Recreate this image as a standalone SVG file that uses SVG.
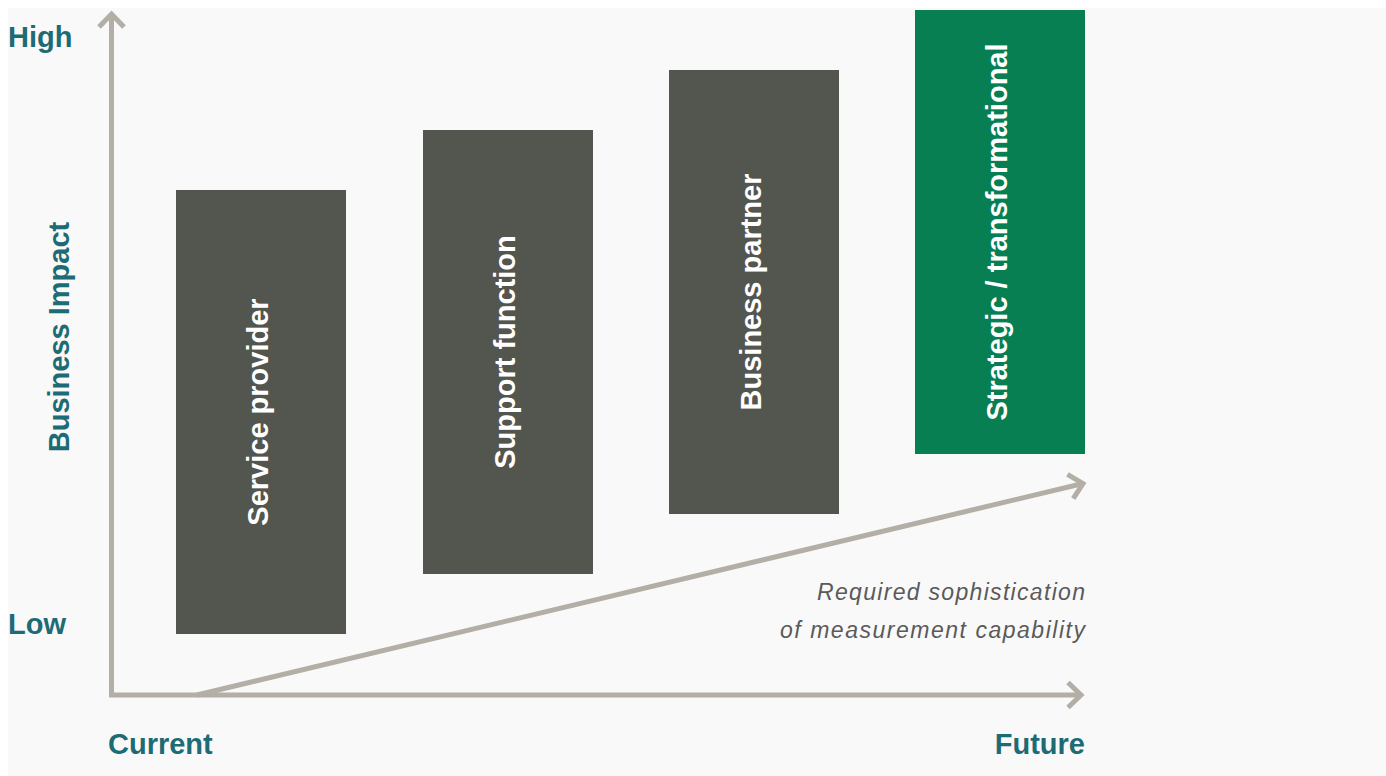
<svg xmlns="http://www.w3.org/2000/svg" width="1386" height="776" viewBox="0 0 1386 776">
<style>
.axis{fill:none;stroke:#b3aea6;stroke-width:5}
.box{fill:#53554f}
.green{fill:#087f52}
.lbl{font-family:"Liberation Sans",Arial,sans-serif;font-weight:bold;font-size:29px;fill:#ffffff}
.ax{font-family:"Liberation Sans",Arial,sans-serif;font-weight:bold;font-size:29px;fill:#1d6b74}
.note{font-family:"Liberation Sans",Arial,sans-serif;font-style:italic;font-size:23px;fill:#5a5a5a}
</style>
<defs>
<marker id="arr" viewBox="-18 -16 22 32" markerWidth="22" markerHeight="32" refX="0" refY="0" orient="auto" markerUnits="userSpaceOnUse" overflow="visible">
<path d="M-13,-12.5 L0,0 L-13,12.5" fill="none" stroke="#b3aea6" stroke-width="5"/>
</marker>
</defs>
<rect x="0" y="0" width="1386" height="776" fill="#ffffff"/>
<rect x="8" y="8" width="1378" height="768" fill="#f9f9f9"/>
<g id="connectors">
<path class="axis" d="M111.5,697 L111.5,14" marker-end="url(#arr)"/>
<path class="axis" d="M109,695 L1081,695" marker-end="url(#arr)"/>
<path class="axis" d="M197,695 L1083,483.5" marker-end="url(#arr)"/>
</g>
<g id="service-provider">
<rect class="box" x="176" y="190" width="170" height="444"/>
<text class="lbl" transform="translate(267.5,412) rotate(-90)" text-anchor="middle">Service provider</text>
</g>
<g id="support-function">
<rect class="box" x="423" y="130" width="170" height="444"/>
<text class="lbl" transform="translate(514.5,352) rotate(-90)" text-anchor="middle">Support function</text>
</g>
<g id="business-partner">
<rect class="box" x="669" y="70" width="170" height="444"/>
<text class="lbl" transform="translate(760.5,292) rotate(-90)" text-anchor="middle">Business partner</text>
</g>
<g id="strategic">
<rect class="green" x="915" y="10" width="170" height="444"/>
<text class="lbl" transform="translate(1006.5,232) rotate(-90)" text-anchor="middle">Strategic / transformational</text>
</g>
<g id="axis-labels">
<text class="ax" x="8" y="47">High</text>
<text class="ax" x="8" y="634">Low</text>
<text class="ax" x="108" y="754">Current</text>
<text class="ax" x="1085" y="754" text-anchor="end">Future</text>
<text class="ax" transform="translate(69,337) rotate(-90)" text-anchor="middle">Business Impact</text>
</g>
<g id="note">
<text class="note" x="817" y="600" textLength="268" lengthAdjust="spacing">Required sophistication</text>
<text class="note" x="780" y="638" textLength="305" lengthAdjust="spacing">of measurement capability</text>
</g>
</svg>
